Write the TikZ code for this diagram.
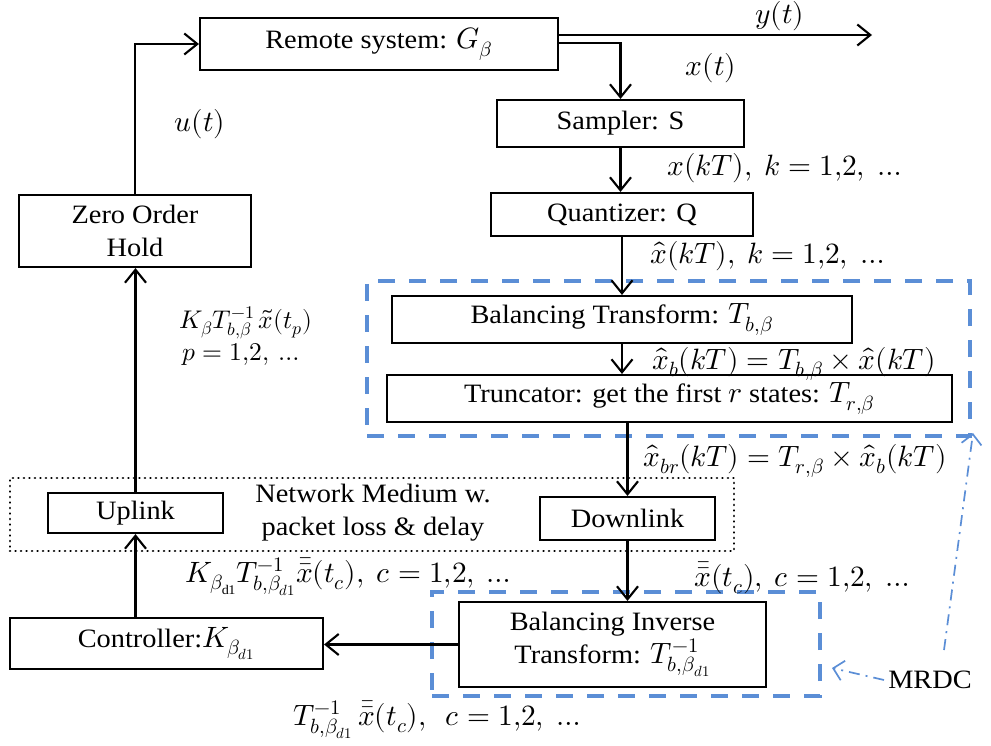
\documentclass[tikz,border=0pt]{standalone}
\usepackage{fontspec}
\usepackage{unicode-math}
\setmainfont{Liberation Serif}[FakeStretch=1.07]
\setmathfont{Latin Modern Math}[Scale=1.11]
\usetikzlibrary{arrows.meta}
\definecolor{mrdcblue}{HTML}{5B8ED6}

\tikzset{
  box/.style={draw, line width=2.1pt, rectangle, inner sep=0pt, align=center},
  arr/.style={line width=2.1pt, -{Straight Barb[length=13pt,width=21pt,line width=2.1pt]}},
  netbox/.style={draw, line width=2.6pt, dash pattern=on 0.1pt off 5.4pt, line cap=round, inner sep=0pt},
  mrdcbox/.style={draw=mrdcblue, line width=4pt, dash pattern=on 17pt off 14pt, inner sep=0pt},
  mrdcarr/.style={draw=mrdcblue, line width=1.7pt, dash pattern=on 11pt off 6pt on 2pt off 6pt,
    -{Straight Barb[length=10pt,width=20pt,line width=1.7pt]}},
  lbl/.style={inner sep=0pt, anchor=west},
  small/.style={font=\fontsize{23}{28}\selectfont, inner sep=0pt}
}

\begin{document}
\begin{tikzpicture}[x=1pt, y=-1pt, font=\fontsize{26.5}{33}\selectfont]
\useasboundingbox (0,0) rectangle (991,746);

% grouping frames
\node[mrdcbox, minimum width=603pt, minimum height=155pt] (grp1) at (668.5,358.5) {};
\node[mrdcbox, minimum width=388pt, minimum height=104pt] (grp2) at (626,644) {};
\node[netbox, minimum width=724pt, minimum height=73pt] (net) at (372,514.5) {};

% blocks
\node[box, minimum width=358pt, minimum height=52pt] (remote) at (379,44) {Remote system: $G_\beta$};
\node[box, minimum width=247pt, minimum height=47pt] (sampler) at (620.5,123.5) {Sampler: S};
\node[box, minimum width=262pt, minimum height=43pt] (quant) at (622,214.5) {Quantizer: Q};
\node[box, minimum width=460pt, minimum height=47pt] (bt) at (622,319.5) {Balancing Transform: $T_{b,\beta}$};
\node[box, minimum width=565pt, minimum height=47pt] (trunc) at (669.5,398.5) {Truncator: get the first $r$ states: $T_{r,\beta}$};
\node[box, minimum width=175pt, minimum height=43pt] (down) at (627.5,518.5) {Downlink};
\node[box, minimum width=175pt, minimum height=40pt] (up) at (135.5,513) {Uplink};
\node[box, minimum width=232pt, minimum height=72pt] (zoh) at (135,231) {Zero Order\\Hold};
\node[box, minimum width=313pt, minimum height=51pt] (ctrl) at (166.5,643.5) {Controller:$K_{\beta_{d1}}$};
\node[box, minimum width=307pt, minimum height=85pt] (bit) at (612.5,644.5) {Balancing Inverse\\Transform: $T^{-1}_{b,\beta_{d1}}$};

\node[align=center, inner sep=0pt] (nettext) at (373,513) {Network Medium w.\\packet loss \& delay};
\node[inner sep=0pt] (mrdc) at (930,680) {MRDC};

% signal flow
\coordinate (yend) at (872,35);
\draw[arr] (zoh.north) |- (remote.west);
\draw[arr] (remote.east |- yend) -- (yend);
\draw[arr] (remote.east |- 0,43) -| (sampler.north);
\draw[arr] (sampler.south) -- (sampler.south |- quant.north);
\draw[arr] (quant.south) -- (quant.south |- bt.north);
\draw[arr] (bt.south) -- (bt.south |- trunc.north);
\draw[arr] (trunc.south -| down.north) -- (down.north);
\draw[arr] (down.south) -- (down.south |- bit.north);
\draw[arr] (bit.west) -- (bit.west -| ctrl.east);
\draw[arr] (up.south |- ctrl.north) -- (up.south);
\draw[arr] (up.north) -- (up.north |- zoh.south);

% MRDC pointers
\coordinate (tip1) at (973,433);
\coordinate (tail1) at (944,650);
\coordinate (tip2) at (832,668);
\draw[mrdcarr] (tail1) -- (tip1);
\draw[mrdcarr] ([xshift=-4pt]mrdc.west) -- (tip2);

% signal labels
\node[inner sep=0pt] at (780,16) {$y(t)$};
\node[inner sep=0pt] at (711,68) {$x(t)$};
\node[inner sep=0pt] at (200,124) {$u(t)$};
\node[lbl] at (667,168) {$x(kT),\ k=1{,}2,\ \ldots$};
\node[lbl] at (650,256) {$\hat{x}(kT),\ k=1{,}2,\ \ldots$};
\node[lbl] at (652,364) {$\hat{x}_b(kT)=T_{b,\beta}\times\hat{x}(kT)$};
\node[lbl] at (643,461) {$\hat{x}_{br}(kT)=T_{r,\beta}\times\hat{x}_b(kT)$};
\node[lbl] at (694,578) {$\bar{\bar{x}}(t_c),\ c=1{,}2,\ \ldots$};
\node[lbl] at (185,577) {$K_{\beta_{\mathrm{d1}}}T^{-1}_{b,\beta_{d1}}\bar{\bar{x}}(t_c),\ c=1{,}2,\ \ldots$};
\node[lbl] at (293,720) {$T^{-1}_{b,\beta_{d1}}\,\bar{\bar{x}}(t_c),\ \ c=1{,}2,\ \ldots$};
\node[small] at (246,323) {$K_\beta T^{-1}_{b,\beta}\,\tilde{x}(t_p)$};
\node[small] at (241,354) {$p=1{,}2,\,\ldots$};
\end{tikzpicture}
\end{document}
